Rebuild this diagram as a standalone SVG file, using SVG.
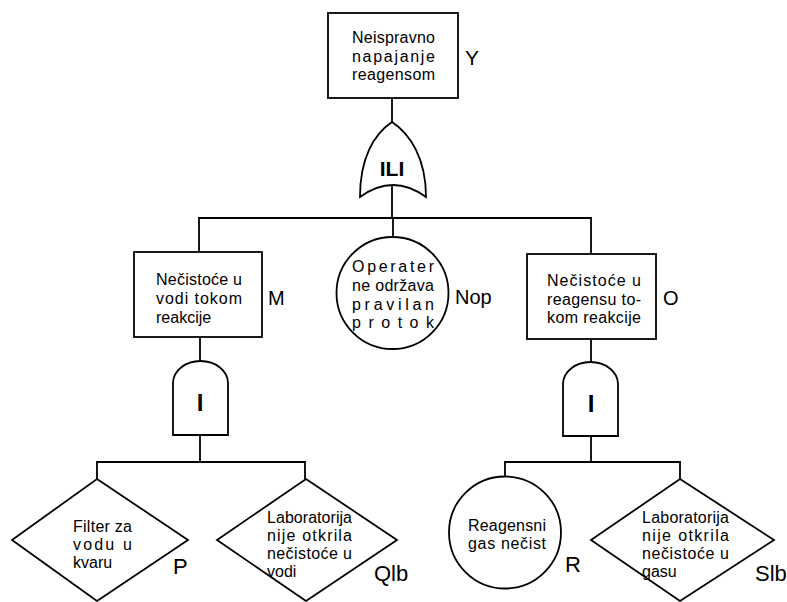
<svg xmlns="http://www.w3.org/2000/svg" width="787" height="602" viewBox="0 0 787 602">
<style>
.s{fill:#fff;stroke:#000;stroke-width:1.8}
.c{fill:none;stroke:#000;stroke-width:1.8}
.t{font-family:"Liberation Sans",Arial,sans-serif;font-size:16px;fill:#000}
.l{font-family:"Liberation Sans",Arial,sans-serif;font-size:20px;fill:#000}
.g{font-family:"Liberation Sans",Arial,sans-serif;font-weight:bold;fill:#000;text-anchor:middle}
</style>
<rect width="787" height="602" fill="#fff"/>
<g id="connectors" class="c">
<path d="M392,98V122"/>
<path d="M392,185V218"/>
<path d="M199,252V218H591V254"/>
<path d="M393,218V237"/>
<path d="M200,337V361"/>
<path d="M200,435V462"/>
<path d="M97,479V462H305V479"/>
<path d="M591,339V362"/>
<path d="M591,436V462"/>
<path d="M505,477V462H680V479"/>
</g>
<g id="Y">
<rect class="s" x="328" y="13" width="130" height="85"/>
<text class="t" x="352" y="43" textLength="83" lengthAdjust="spacing">Neispravno</text>
<text class="t" x="352" y="62" textLength="83" lengthAdjust="spacing">napajanje</text>
<text class="t" x="352" y="80" textLength="83" lengthAdjust="spacing">reagensom</text>
<text class="l" x="465" y="65" style="font-size:21px">Y</text>
</g>
<g id="gate-ili">
<path class="s" d="M392,122 C374,134 360,158 360,197 Q393,173 426,197 C426,158 410,134 392,122 Z"/>
<text class="g" x="392" y="176" style="font-size:21px">ILI</text>
</g>
<g id="M">
<rect class="s" x="134" y="252" width="128" height="85"/>
<text class="t" x="156" y="285" textLength="86" lengthAdjust="spacing">Nečistoće u</text>
<text class="t" x="156" y="304" textLength="86" lengthAdjust="spacing">vodi  tokom</text>
<text class="t" x="156" y="323">reakcije</text>
<text class="l" x="268" y="305">M</text>
</g>
<g id="Nop">
<circle class="s" cx="392.5" cy="293" r="56"/>
<text class="t" x="352" y="272" textLength="82" lengthAdjust="spacing">Operater</text>
<text class="t" x="352" y="291" textLength="82" lengthAdjust="spacing">ne održava</text>
<text class="t" x="352" y="310" textLength="82" lengthAdjust="spacing">pravilan</text>
<text class="t" x="352" y="328" textLength="82" lengthAdjust="spacing">protok</text>
<text class="l" x="455" y="304">Nop</text>
</g>
<g id="O">
<rect class="s" x="527" y="254" width="129" height="85"/>
<text class="t" x="547" y="286" textLength="94" lengthAdjust="spacing">Nečistoće  u</text>
<text class="t" x="547" y="305" textLength="94" lengthAdjust="spacing">reagensu to-</text>
<text class="t" x="547" y="323" textLength="94" lengthAdjust="spacing">kom reakcije</text>
<text class="l" x="663" y="305">O</text>
</g>
<g id="gate-i-left">
<path class="s" d="M173,435 V383 A27.5,22 0 0 1 228,383 V435 Z"/>
<text class="g" x="200" y="411" style="font-size:24px">I</text>
</g>
<g id="gate-i-right">
<path class="s" d="M563,436 V384 A27.5,22 0 0 1 618,384 V436 Z"/>
<text class="g" x="591" y="412" style="font-size:24px">I</text>
</g>
<g id="P">
<path class="s" d="M97,479 L188,540 L97,601 L12,540 Z"/>
<text class="t" x="73" y="532" textLength="59" lengthAdjust="spacing">Filter za</text>
<text class="t" x="73" y="550" textLength="59" lengthAdjust="spacing">vodu   u</text>
<text class="t" x="73" y="568">kvaru</text>
<text class="l" x="173" y="574" style="font-size:22px">P</text>
</g>
<g id="Qlb">
<path class="s" d="M306,479 L397,540 L306,601 L217,540 Z"/>
<text class="t" x="267" y="523" textLength="85" lengthAdjust="spacing">Laboratorija</text>
<text class="t" x="267" y="541" textLength="85" lengthAdjust="spacing">nije   otkrila</text>
<text class="t" x="267" y="559" textLength="85" lengthAdjust="spacing">nečistoće u</text>
<text class="t" x="267" y="577">vodi</text>
<text class="l" x="374" y="581" style="font-size:22px">Qlb</text>
</g>
<g id="R">
<circle class="s" cx="505" cy="532.5" r="56"/>
<text class="t" x="468" y="531" textLength="78" lengthAdjust="spacing">Reagensni</text>
<text class="t" x="468" y="549" textLength="78" lengthAdjust="spacing">gas  nečist</text>
<text class="l" x="565" y="572" style="font-size:22px">R</text>
</g>
<g id="Slb">
<path class="s" d="M680,479 L774,540 L680,601 L591,540 Z"/>
<text class="t" x="642" y="523" textLength="87" lengthAdjust="spacing">Laboratorija</text>
<text class="t" x="642" y="541" textLength="87" lengthAdjust="spacing">nije   otkrila</text>
<text class="t" x="642" y="559" textLength="87" lengthAdjust="spacing">nečistoće  u</text>
<text class="t" x="642" y="577">gasu</text>
<text class="l" x="755" y="581" style="font-size:22px">Slb</text>
</g>
</svg>
